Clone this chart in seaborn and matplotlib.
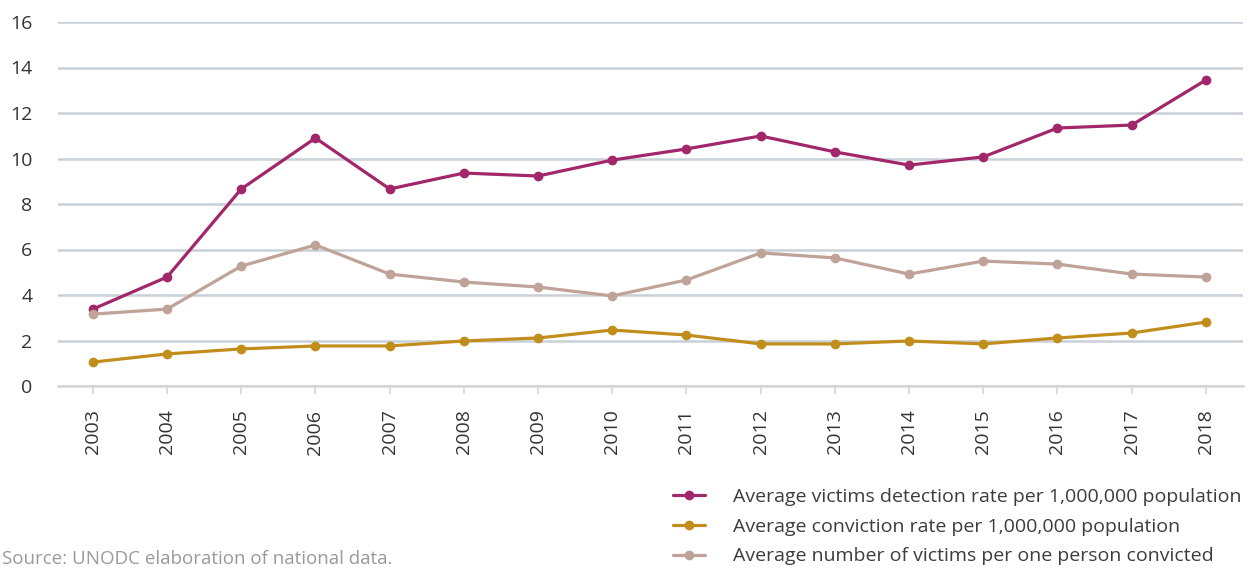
import numpy as np
import pandas as pd
import matplotlib
matplotlib.use("Agg")
import matplotlib.pyplot as plt
import seaborn as sns

years = list(range(2003, 2019))
detection_rate = [3.38, 4.79, 8.66, 10.9, 8.66, 9.36, 9.23, 9.93, 10.42, 10.99,
                  10.29, 9.71, 10.07, 11.34, 11.47, 13.45]
conviction_rate = [1.05, 1.41, 1.63, 1.76, 1.76, 1.98, 2.11, 2.46, 2.24, 1.85,
                   1.85, 1.98, 1.85, 2.11, 2.33, 2.81]
victims_per_convicted = [3.16, 3.38, 5.27, 6.2, 4.92, 4.57, 4.35, 3.96, 4.66, 5.85,
                         5.63, 4.92, 5.49, 5.36, 4.92, 4.79]
series_names = [
    "Average victims detection rate per 1,000,000 population",
    "Average conviction rate per 1,000,000 population",
    "Average number of victims per one person convicted",
]
colors = ["#A2276A", "#C28E1B", "#BFA298"]

df = pd.concat([
    pd.DataFrame({"year": years, "value": vals, "series": name})
    for name, vals in zip(series_names, [detection_rate, conviction_rate, victims_per_convicted])
])

sns.set_theme(style="white")
plt.rcParams["font.family"] = ["Open Sans", "DejaVu Sans"]

W, H = 1253, 569
fig = plt.figure(figsize=(W / 100, H / 100), dpi=100)
ax = fig.add_axes([58 / W, 183 / H, (1243 - 58) / W, (386 - 22) / H])

sns.lineplot(data=df, x="year", y="value", hue="series", hue_order=series_names,
             palette=colors, marker="o", markersize=7, markeredgewidth=0,
             linewidth=2.3, ax=ax, legend=False, zorder=3)

ax.set_xlim(2003 - 0.47, 2018 + 0.5)
ax.set_ylim(0, 16)
ax.set_yticks(range(0, 17, 2))
ax.set_xticks(years)
ax.set_xticklabels([str(y) for y in years], rotation=90)
ax.set_xlabel("")
ax.set_ylabel("")

ax.grid(axis="y", color="#C8D0D8", linewidth=1.8, zorder=0)
ax.grid(axis="x", visible=False)
for side in ["top", "right", "left"]:
    ax.spines[side].set_visible(False)
ax.spines["bottom"].set_color("#D5D5D5")
ax.spines["bottom"].set_linewidth(1.8)
ax.spines["bottom"].set_zorder(1)

ax.tick_params(axis="y", length=0, pad=18.5, labelsize=14, labelcolor="#333333")
ax.tick_params(axis="x", length=6, width=1.2, color="#D5D5D5", direction="out",
               pad=11, labelsize=14, labelcolor="#333333", bottom=True)

handles = [plt.Line2D([], [], color=c, marker="o", markersize=7, markeredgewidth=0,
                      linewidth=2.3) for c in colors]
fig.legend(handles, series_names, loc="upper left",
           bbox_to_anchor=(673 / W, 1 - 488 / H), frameon=False,
           fontsize=14.0, labelcolor="#3C3C3C", handlelength=1.65,
           handletextpad=1.45, labelspacing=0.6, borderaxespad=0, borderpad=0)

fig.text(2 / W, 1 / H, "Source: UNODC elaboration of national data.",
         fontsize=13.5, color="#9A9A9A", ha="left", va="bottom")

fig.savefig("out.png", dpi=100)
